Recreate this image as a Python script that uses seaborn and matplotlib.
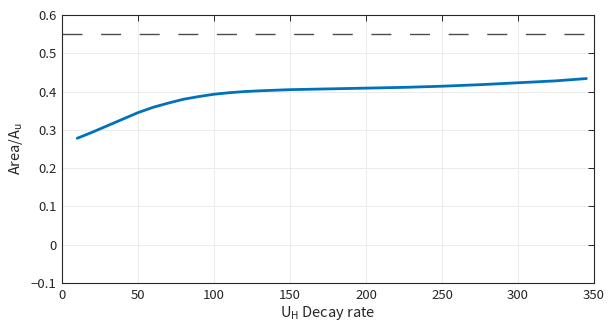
import numpy as np
import pandas as pd
import matplotlib
matplotlib.use("Agg")
import matplotlib.pyplot as plt
import seaborn as sns

# Data
decay_rate = [10, 20, 30, 40, 50, 60, 70, 80, 90, 100, 110, 120, 130, 150, 175,
              200, 225, 250, 275, 300, 325, 345]
area_ratio = [0.278, 0.294, 0.311, 0.328, 0.345, 0.359, 0.370, 0.380, 0.387, 0.393,
              0.397, 0.400, 0.402, 0.405, 0.407, 0.409, 0.411, 0.414, 0.418, 0.423,
              0.428, 0.434]
ref_x = [0, 345]
ref_y = [0.55, 0.55]
x_ticks = [0, 50, 100, 150, 200, 250, 300, 350]
y_ticks = [-0.1, 0, 0.1, 0.2, 0.3, 0.4, 0.5, 0.6]

sns.set_theme(style="white")
plt.rcParams['font.family'] = ['Noto Sans CJK JP', 'DejaVu Sans']
plt.rcParams['mathtext.fontset'] = 'custom'
plt.rcParams['mathtext.rm'] = 'Noto Sans CJK JP'
plt.rcParams['axes.unicode_minus'] = True

fig = plt.figure(figsize=(6.11, 3.29), dpi=100)
ax = fig.add_axes([62/611, 46/329, 532/611, 268/329])

df = pd.DataFrame({"x": decay_rate, "y": area_ratio})
dref = pd.DataFrame({"x": ref_x, "y": ref_y})

sns.lineplot(data=dref, x="x", y="y", ax=ax, color="#4d4d4d", linewidth=1.0)
ax.lines[-1].set_dashes((14.4, 13.4))
sns.lineplot(data=df, x="x", y="y", ax=ax, color="#0072BD", linewidth=2.0)

ax.set_xlim(0, 350)
ax.set_ylim(-0.1, 0.6)
ax.set_xticks(x_ticks)
ax.set_yticks(y_ticks)
ax.set_xticklabels([str(t) for t in x_ticks])
ax.set_yticklabels(["\u22120.1", "0", "0.1", "0.2", "0.3", "0.4", "0.5", "0.6"])

ax.grid(True, color="#ebebeb", linewidth=0.7)
ax.set_axisbelow(True)
for s in ax.spines.values():
    s.set_color("#262626")
    s.set_linewidth(0.8)
ax.tick_params(direction="in", top=True, right=True, length=4, width=0.7,
               colors="#262626", labelsize=9.5, pad=4)

ax.set_xlabel(r"U$_\mathrm{H}$ Decay rate", fontsize=10.5, color="#262626", labelpad=2)
ax.set_ylabel(r"Area/A$_\mathrm{u}$", fontsize=10.5, color="#262626", labelpad=4)

fig.savefig("out.png", dpi=100)
